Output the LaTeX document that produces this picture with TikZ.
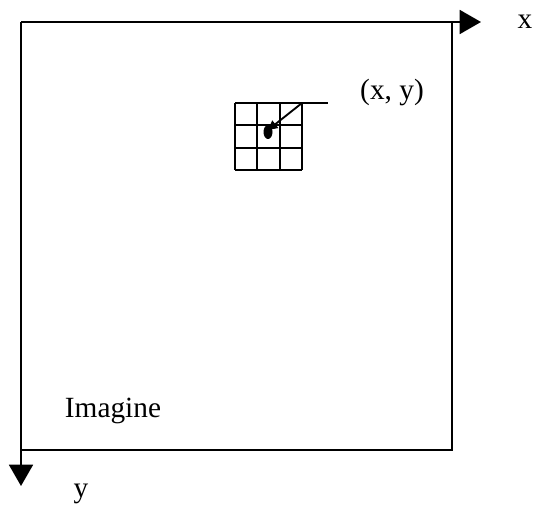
\documentclass[tikz,border=0pt]{standalone}
\usepackage{fontspec}
\setmainfont{Liberation Serif}
\usetikzlibrary{arrows.meta}
\begin{document}
\begin{tikzpicture}[x=0.75pt, y=-0.75pt, line width=1.4pt,
  every node/.style={font=\fontsize{22}{25}\selectfont},
  axis/.style={-{Triangle[length=16pt, width=18pt]}}]
  \useasboundingbox (0,0) rectangle (536,510);
  \coordinate (O) at (21,22); \coordinate (XE) at (481,22); \coordinate (YE) at (21,486);
  \coordinate (TR) at (452,22); \coordinate (BR) at (452,450); \coordinate (BL) at (21,450);
  % image frame and axes
  \draw (TR)--(BR)--(BL);
  \draw[axis] (O)--(XE);
  \draw[axis] (O)--(YE);
  \node (xlab) at (525,22) {x};
  \node (ylab) at (81,494) {y};
  \node (img) at (113,411) {Imagine};
  % 3x3 neighbourhood
  \foreach \i in {0,...,3} {
    \draw (235+22.33*\i,103)--(235+22.33*\i,170);
    \draw (235,103+22.33*\i)--(302,103+22.33*\i);
  }
  \coordinate (G) at (302,103); \coordinate (L) at (328,103);
  \fill (268,132) ellipse (4.5 and 7);
  \coordinate (P) at (268,130);
  \draw (G)--(L);
  \draw[-{Triangle[length=7pt, width=7pt]}] (G)--(P);
  \node (pt) at (392,92) {(x, y)};
\end{tikzpicture}
\end{document}
